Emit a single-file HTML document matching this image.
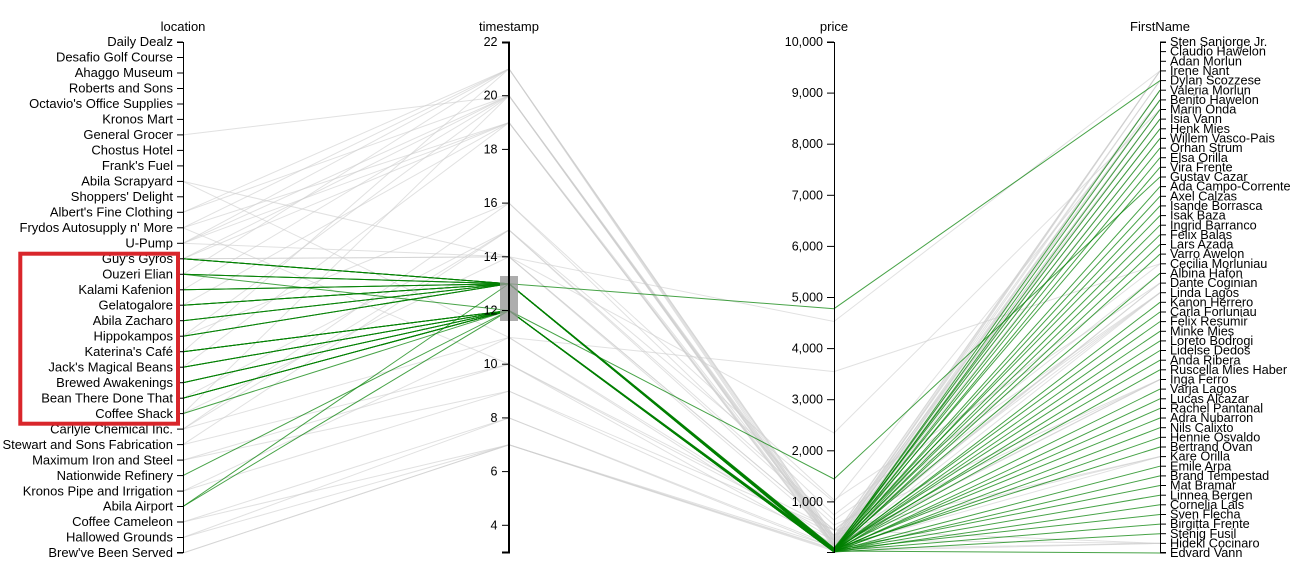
<!DOCTYPE html>
<html>
<head>
<meta charset="utf-8">
<style>
html,body{margin:0;padding:0;background:#fff;}
svg{display:block;}
text{font-family:"Liberation Sans",Arial,sans-serif;fill:#000;}
.ax path,.ax line{stroke:#000;fill:none;stroke-width:1;}
.bg polyline{fill:none;stroke:#cdcdcd;stroke-opacity:0.6;stroke-width:1;}
.fg polyline{fill:none;stroke:#008000;stroke-opacity:0.72;stroke-width:1;}
.loc text{font-size:13px;}
.num text{font-size:12.5px;}
.fn text{font-size:12.7px;}
.title{font-size:13px;text-anchor:middle;}
</style>
</head>
<body>
<svg width="1298" height="567" viewBox="0 0 1298 567" xmlns="http://www.w3.org/2000/svg">
<rect width="1298" height="567" fill="#fff"/>

<g class="bg">
<polyline points="183,134.9 509,95.7 834,540 1160,70.9"/>
<polyline points="183,212.3 509,68.9 834,545 1160,90.2"/>
<polyline points="183,212.3 509,95.7 834,538 1160,99.9"/>
<polyline points="183,227.8 509,68.9 834,542 1160,70.9"/>
<polyline points="183,227.8 509,122.6 834,546 1160,109.5"/>
<polyline points="183,243.3 509,95.7 834,544 1160,80.6"/>
<polyline points="183,243.3 509,122.6 834,540 1160,119.1"/>
<polyline points="183,243.3 509,68.9 834,536 1160,70.9"/>
<polyline points="183,258.8 509,95.7 834,543 1160,99.9"/>
<polyline points="183,258.8 509,122.6 834,547 1160,128.8"/>
<polyline points="183,289.8 509,95.7 834,541 1160,90.2"/>
<polyline points="183,336.2 509,95.7 834,545 1160,109.5"/>
<polyline points="183,351.7 509,68.9 834,539 1160,80.6"/>
<polyline points="183,305.2 509,122.6 834,548 1160,138.4"/>
<polyline points="183,274.3 509,68.9 834,537 1160,70.9"/>
<polyline points="183,413.6 509,95.7 834,546 1160,119.1"/>
<polyline points="183,367.2 509,122.6 834,544 1160,90.2"/>
<polyline points="183,181.4 509,256.8 834,321.5 1160,70.9"/>
<polyline points="183,258.8 509,256.8 834,530 1160,273.4"/>
<polyline points="183,429.1 509,203.1 834,500 1160,283.1"/>
<polyline points="183,444.6 509,230 834,520 1160,292.7"/>
<polyline points="183,336.2 509,203.1 834,515 1160,263.8"/>
<polyline points="183,398.2 509,230 834,525 1160,379.5"/>
<polyline points="183,413.6 509,256.8 834,535 1160,456.6"/>
<polyline points="183,243.3 509,256.8 834,530 1160,543.4"/>
<polyline points="183,491.1 509,337.4 834,371.6 1160,263.8"/>
<polyline points="183,429.1 509,337.4 834,540 1160,292.7"/>
<polyline points="183,444.6 509,364.2 834,535 1160,379.5"/>
<polyline points="183,460.1 509,391.1 834,530 1160,456.6"/>
<polyline points="183,460.1 509,364.2 834,545 1160,283.1"/>
<polyline points="183,491.1 509,391.1 834,540 1160,543.4"/>
<polyline points="183,522 509,417.9 834,548 1160,456.6"/>
<polyline points="183,537.5 509,417.9 834,546 1160,379.5"/>
<polyline points="183,537.5 509,444.8 834,549 1160,543.4"/>
<polyline points="183,553 509,444.8 834,550 1160,292.7"/>
<polyline points="183,553 509,444.8 834,547 1160,283.1"/>
<polyline points="183,522 509,444.8 834,551 1160,543.4"/>
<polyline points="183,258.8 509,256.8 834,433 1160,109.5"/>
<polyline points="183,429.1 509,230 834,502 1160,99.9"/>
<polyline points="183,227.8 509,364.2 834,530 1160,292.7"/>
<polyline points="183,181.4 509,337.4 834,545 1160,379.5"/>
</g>

<g class="fg">
<polyline points="183,258.8 509,283.7 834,551 1160,90.2"/>
<polyline points="183,258.8 509,283.7 834,550 1160,99.9"/>
<polyline points="183,258.8 509,283.7 834,552 1160,109.5"/>
<polyline points="183,258.8 509,283.7 834,549 1160,119.1"/>
<polyline points="183,258.8 509,283.7 834,548 1160,128.8"/>
<polyline points="183,274.3 509,283.7 834,308.7 1160,80.6"/>
<polyline points="183,274.3 509,283.7 834,551 1160,138.4"/>
<polyline points="183,274.3 509,283.7 834,550 1160,148.1"/>
<polyline points="183,289.8 509,283.7 834,552 1160,157.7"/>
<polyline points="183,289.8 509,283.7 834,549 1160,167.3"/>
<polyline points="183,289.8 509,283.7 834,551 1160,186.6"/>
<polyline points="183,305.2 509,283.7 834,550 1160,196.3"/>
<polyline points="183,305.2 509,283.7 834,552 1160,205.9"/>
<polyline points="183,305.2 509,283.7 834,548 1160,215.6"/>
<polyline points="183,305.2 509,283.7 834,551 1160,225.2"/>
<polyline points="183,320.7 509,283.7 834,550 1160,234.8"/>
<polyline points="183,320.7 509,283.7 834,552 1160,244.5"/>
<polyline points="183,320.7 509,283.7 834,551 1160,254.1"/>
<polyline points="183,336.2 509,283.7 834,549 1160,273.4"/>
<polyline points="183,336.2 509,283.7 834,552 1160,302.3"/>
<polyline points="183,336.2 509,283.7 834,550 1160,312"/>
<polyline points="183,506.5 509,283.7 834,551 1160,321.6"/>
<polyline points="183,274.3 509,310.5 834,479 1160,177"/>
<polyline points="183,351.7 509,310.5 834,551 1160,331.3"/>
<polyline points="183,351.7 509,310.5 834,550 1160,340.9"/>
<polyline points="183,351.7 509,310.5 834,552 1160,350.5"/>
<polyline points="183,351.7 509,310.5 834,549 1160,360.2"/>
<polyline points="183,367.2 509,310.5 834,551 1160,369.8"/>
<polyline points="183,367.2 509,310.5 834,550 1160,389.1"/>
<polyline points="183,367.2 509,310.5 834,552 1160,398.8"/>
<polyline points="183,367.2 509,310.5 834,551 1160,408.4"/>
<polyline points="183,382.7 509,310.5 834,550 1160,418"/>
<polyline points="183,382.7 509,310.5 834,552 1160,427.7"/>
<polyline points="183,382.7 509,310.5 834,551 1160,437.3"/>
<polyline points="183,382.7 509,310.5 834,549 1160,447"/>
<polyline points="183,398.2 509,310.5 834,551 1160,466.2"/>
<polyline points="183,398.2 509,310.5 834,552 1160,475.9"/>
<polyline points="183,398.2 509,310.5 834,550 1160,485.5"/>
<polyline points="183,398.2 509,310.5 834,551 1160,495.2"/>
<polyline points="183,413.6 509,310.5 834,552 1160,504.8"/>
<polyline points="183,398.2 509,310.5 834,550 1160,514.5"/>
<polyline points="183,475.6 509,310.5 834,551 1160,524.1"/>
<polyline points="183,506.5 509,310.5 834,552 1160,533.7"/>
<polyline points="183,351.7 509,310.5 834,551 1160,553"/>
</g>

<g class="ax loc" transform="translate(183,0)">
<path d="M-6,42.5H0.5V552.5H-6"/>
<g text-anchor="end">
<line x1="-6" x2="0" y1="42" y2="42"/><text x="-10" y="42" dy="0.32em">Daily Dealz</text>
<line x1="-6" x2="0" y1="57.5" y2="57.5"/><text x="-10" y="57.5" dy="0.32em">Desafio Golf Course</text>
<line x1="-6" x2="0" y1="73" y2="73"/><text x="-10" y="73" dy="0.32em">Ahaggo Museum</text>
<line x1="-6" x2="0" y1="88.5" y2="88.5"/><text x="-10" y="88.5" dy="0.32em">Roberts and Sons</text>
<line x1="-6" x2="0" y1="104" y2="104"/><text x="-10" y="104" dy="0.32em">Octavio's Office Supplies</text>
<line x1="-6" x2="0" y1="119.4" y2="119.4"/><text x="-10" y="119.4" dy="0.32em">Kronos Mart</text>
<line x1="-6" x2="0" y1="134.9" y2="134.9"/><text x="-10" y="134.9" dy="0.32em">General Grocer</text>
<line x1="-6" x2="0" y1="150.4" y2="150.4"/><text x="-10" y="150.4" dy="0.32em">Chostus Hotel</text>
<line x1="-6" x2="0" y1="165.9" y2="165.9"/><text x="-10" y="165.9" dy="0.32em">Frank's Fuel</text>
<line x1="-6" x2="0" y1="181.4" y2="181.4"/><text x="-10" y="181.4" dy="0.32em">Abila Scrapyard</text>
<line x1="-6" x2="0" y1="196.8" y2="196.8"/><text x="-10" y="196.8" dy="0.32em">Shoppers' Delight</text>
<line x1="-6" x2="0" y1="212.3" y2="212.3"/><text x="-10" y="212.3" dy="0.32em">Albert's Fine Clothing</text>
<line x1="-6" x2="0" y1="227.8" y2="227.8"/><text x="-10" y="227.8" dy="0.32em">Frydos Autosupply n' More</text>
<line x1="-6" x2="0" y1="243.3" y2="243.3"/><text x="-10" y="243.3" dy="0.32em">U-Pump</text>
<line x1="-6" x2="0" y1="258.8" y2="258.8"/><text x="-10" y="258.8" dy="0.32em">Guy's Gyros</text>
<line x1="-6" x2="0" y1="274.3" y2="274.3"/><text x="-10" y="274.3" dy="0.32em">Ouzeri Elian</text>
<line x1="-6" x2="0" y1="289.8" y2="289.8"/><text x="-10" y="289.8" dy="0.32em">Kalami Kafenion</text>
<line x1="-6" x2="0" y1="305.2" y2="305.2"/><text x="-10" y="305.2" dy="0.32em">Gelatogalore</text>
<line x1="-6" x2="0" y1="320.7" y2="320.7"/><text x="-10" y="320.7" dy="0.32em">Abila Zacharo</text>
<line x1="-6" x2="0" y1="336.2" y2="336.2"/><text x="-10" y="336.2" dy="0.32em">Hippokampos</text>
<line x1="-6" x2="0" y1="351.7" y2="351.7"/><text x="-10" y="351.7" dy="0.32em">Katerina's Café</text>
<line x1="-6" x2="0" y1="367.2" y2="367.2"/><text x="-10" y="367.2" dy="0.32em">Jack's Magical Beans</text>
<line x1="-6" x2="0" y1="382.7" y2="382.7"/><text x="-10" y="382.7" dy="0.32em">Brewed Awakenings</text>
<line x1="-6" x2="0" y1="398.2" y2="398.2"/><text x="-10" y="398.2" dy="0.32em">Bean There Done That</text>
<line x1="-6" x2="0" y1="413.6" y2="413.6"/><text x="-10" y="413.6" dy="0.32em">Coffee Shack</text>
<line x1="-6" x2="0" y1="429.1" y2="429.1"/><text x="-10" y="429.1" dy="0.32em">Carlyle Chemical Inc.</text>
<line x1="-6" x2="0" y1="444.6" y2="444.6"/><text x="-10" y="444.6" dy="0.32em">Stewart and Sons Fabrication</text>
<line x1="-6" x2="0" y1="460.1" y2="460.1"/><text x="-10" y="460.1" dy="0.32em">Maximum Iron and Steel</text>
<line x1="-6" x2="0" y1="475.6" y2="475.6"/><text x="-10" y="475.6" dy="0.32em">Nationwide Refinery</text>
<line x1="-6" x2="0" y1="491.1" y2="491.1"/><text x="-10" y="491.1" dy="0.32em">Kronos Pipe and Irrigation</text>
<line x1="-6" x2="0" y1="506.5" y2="506.5"/><text x="-10" y="506.5" dy="0.32em">Abila Airport</text>
<line x1="-6" x2="0" y1="522" y2="522"/><text x="-10" y="522" dy="0.32em">Coffee Cameleon</text>
<line x1="-6" x2="0" y1="537.5" y2="537.5"/><text x="-10" y="537.5" dy="0.32em">Hallowed Grounds</text>
<line x1="-6" x2="0" y1="553" y2="553"/><text x="-10" y="553" dy="0.32em">Brew've Been Served</text>
</g>
<text class="title" x="0" y="31">location</text>
</g>

<g class="ax num" transform="translate(509,0)">
<rect x="-9" y="276" width="18" height="45" fill="#999" fill-opacity="0.8"/>
<path d="M-7,42.5H0V552.5H-7" style="stroke-width:2"/>
<g text-anchor="end">
<line x1="-7" x2="0" y1="42" y2="42"/><text x="-11.5" y="42" dy="0.32em">22</text>
<line x1="-7" x2="0" y1="95.7" y2="95.7"/><text x="-11.5" y="95.7" dy="0.32em">20</text>
<line x1="-7" x2="0" y1="149.4" y2="149.4"/><text x="-11.5" y="149.4" dy="0.32em">18</text>
<line x1="-7" x2="0" y1="203.1" y2="203.1"/><text x="-11.5" y="203.1" dy="0.32em">16</text>
<line x1="-7" x2="0" y1="256.8" y2="256.8"/><text x="-11.5" y="256.8" dy="0.32em">14</text>
<line x1="-7" x2="0" y1="310.5" y2="310.5"/><text x="-11.5" y="310.5" dy="0.32em">12</text>
<line x1="-7" x2="0" y1="364.2" y2="364.2"/><text x="-11.5" y="364.2" dy="0.32em">10</text>
<line x1="-7" x2="0" y1="417.9" y2="417.9"/><text x="-11.5" y="417.9" dy="0.32em">8</text>
<line x1="-7" x2="0" y1="471.6" y2="471.6"/><text x="-11.5" y="471.6" dy="0.32em">6</text>
<line x1="-7" x2="0" y1="525.3" y2="525.3"/><text x="-11.5" y="525.3" dy="0.32em">4</text>
</g>
<text class="title" x="0" y="31" style="font-size:13px">timestamp</text>
</g>

<g class="ax num" transform="translate(834,0)">
<path d="M-7,42.5H0.5V552.5H-7"/>
<g text-anchor="end">
<line x1="-7" x2="0" y1="42" y2="42"/><text x="-11" y="42" dy="0.32em">10,000</text>
<line x1="-7" x2="0" y1="93.1" y2="93.1"/><text x="-11" y="93.1" dy="0.32em">9,000</text>
<line x1="-7" x2="0" y1="144.2" y2="144.2"/><text x="-11" y="144.2" dy="0.32em">8,000</text>
<line x1="-7" x2="0" y1="195.3" y2="195.3"/><text x="-11" y="195.3" dy="0.32em">7,000</text>
<line x1="-7" x2="0" y1="246.4" y2="246.4"/><text x="-11" y="246.4" dy="0.32em">6,000</text>
<line x1="-7" x2="0" y1="297.5" y2="297.5"/><text x="-11" y="297.5" dy="0.32em">5,000</text>
<line x1="-7" x2="0" y1="348.6" y2="348.6"/><text x="-11" y="348.6" dy="0.32em">4,000</text>
<line x1="-7" x2="0" y1="399.7" y2="399.7"/><text x="-11" y="399.7" dy="0.32em">3,000</text>
<line x1="-7" x2="0" y1="450.8" y2="450.8"/><text x="-11" y="450.8" dy="0.32em">2,000</text>
<line x1="-7" x2="0" y1="501.9" y2="501.9"/><text x="-11" y="501.9" dy="0.32em">1,000</text>
</g>
<text class="title" x="0" y="31" style="font-size:13px">price</text>
</g>

<g class="ax fn" transform="translate(1160,0)">
<path d="M6,42.5H0.5V552.5H6"/>
<g>
<line x1="0" x2="6" y1="42" y2="42"/><text x="10" y="42" dy="0.32em">Sten Sanjorge Jr.</text>
<line x1="0" x2="6" y1="51.6" y2="51.6"/><text x="10" y="51.6" dy="0.32em">Claudio Hawelon</text>
<line x1="0" x2="6" y1="61.3" y2="61.3"/><text x="10" y="61.3" dy="0.32em">Adan Morlun</text>
<line x1="0" x2="6" y1="70.9" y2="70.9"/><text x="10" y="70.9" dy="0.32em">Irene Nant</text>
<line x1="0" x2="6" y1="80.6" y2="80.6"/><text x="10" y="80.6" dy="0.32em">Dylan Scozzese</text>
<line x1="0" x2="6" y1="90.2" y2="90.2"/><text x="10" y="90.2" dy="0.32em">Valeria Morlun</text>
<line x1="0" x2="6" y1="99.9" y2="99.9"/><text x="10" y="99.9" dy="0.32em">Benito Hawelon</text>
<line x1="0" x2="6" y1="109.5" y2="109.5"/><text x="10" y="109.5" dy="0.32em">Marin Onda</text>
<line x1="0" x2="6" y1="119.1" y2="119.1"/><text x="10" y="119.1" dy="0.32em">Isia Vann</text>
<line x1="0" x2="6" y1="128.8" y2="128.8"/><text x="10" y="128.8" dy="0.32em">Henk Mies</text>
<line x1="0" x2="6" y1="138.4" y2="138.4"/><text x="10" y="138.4" dy="0.32em">Willem Vasco-Pais</text>
<line x1="0" x2="6" y1="148.1" y2="148.1"/><text x="10" y="148.1" dy="0.32em">Orhan Strum</text>
<line x1="0" x2="6" y1="157.7" y2="157.7"/><text x="10" y="157.7" dy="0.32em">Elsa Orilla</text>
<line x1="0" x2="6" y1="167.3" y2="167.3"/><text x="10" y="167.3" dy="0.32em">Vira Frente</text>
<line x1="0" x2="6" y1="177" y2="177"/><text x="10" y="177" dy="0.32em">Gustav Cazar</text>
<line x1="0" x2="6" y1="186.6" y2="186.6"/><text x="10" y="186.6" dy="0.32em">Ada Campo-Corrente</text>
<line x1="0" x2="6" y1="196.3" y2="196.3"/><text x="10" y="196.3" dy="0.32em">Axel Calzas</text>
<line x1="0" x2="6" y1="205.9" y2="205.9"/><text x="10" y="205.9" dy="0.32em">Isande Borrasca</text>
<line x1="0" x2="6" y1="215.6" y2="215.6"/><text x="10" y="215.6" dy="0.32em">Isak Baza</text>
<line x1="0" x2="6" y1="225.2" y2="225.2"/><text x="10" y="225.2" dy="0.32em">Ingrid Barranco</text>
<line x1="0" x2="6" y1="234.8" y2="234.8"/><text x="10" y="234.8" dy="0.32em">Felix Balas</text>
<line x1="0" x2="6" y1="244.5" y2="244.5"/><text x="10" y="244.5" dy="0.32em">Lars Azada</text>
<line x1="0" x2="6" y1="254.1" y2="254.1"/><text x="10" y="254.1" dy="0.32em">Varro Awelon</text>
<line x1="0" x2="6" y1="263.8" y2="263.8"/><text x="10" y="263.8" dy="0.32em">Cecilia Morluniau</text>
<line x1="0" x2="6" y1="273.4" y2="273.4"/><text x="10" y="273.4" dy="0.32em">Albina Hafon</text>
<line x1="0" x2="6" y1="283.1" y2="283.1"/><text x="10" y="283.1" dy="0.32em">Dante Coginian</text>
<line x1="0" x2="6" y1="292.7" y2="292.7"/><text x="10" y="292.7" dy="0.32em">Linda Lagos</text>
<line x1="0" x2="6" y1="302.3" y2="302.3"/><text x="10" y="302.3" dy="0.32em">Kanon Herrero</text>
<line x1="0" x2="6" y1="312" y2="312"/><text x="10" y="312" dy="0.32em">Carla Forluniau</text>
<line x1="0" x2="6" y1="321.6" y2="321.6"/><text x="10" y="321.6" dy="0.32em">Felix Resumir</text>
<line x1="0" x2="6" y1="331.3" y2="331.3"/><text x="10" y="331.3" dy="0.32em">Minke Mies</text>
<line x1="0" x2="6" y1="340.9" y2="340.9"/><text x="10" y="340.9" dy="0.32em">Loreto Bodrogi</text>
<line x1="0" x2="6" y1="350.5" y2="350.5"/><text x="10" y="350.5" dy="0.32em">Lidelse Dedos</text>
<line x1="0" x2="6" y1="360.2" y2="360.2"/><text x="10" y="360.2" dy="0.32em">Anda Ribera</text>
<line x1="0" x2="6" y1="369.8" y2="369.8"/><text x="10" y="369.8" dy="0.32em">Ruscella Mies Haber</text>
<line x1="0" x2="6" y1="379.5" y2="379.5"/><text x="10" y="379.5" dy="0.32em">Inga Ferro</text>
<line x1="0" x2="6" y1="389.1" y2="389.1"/><text x="10" y="389.1" dy="0.32em">Varja Lagos</text>
<line x1="0" x2="6" y1="398.8" y2="398.8"/><text x="10" y="398.8" dy="0.32em">Lucas Alcazar</text>
<line x1="0" x2="6" y1="408.4" y2="408.4"/><text x="10" y="408.4" dy="0.32em">Rachel Pantanal</text>
<line x1="0" x2="6" y1="418" y2="418"/><text x="10" y="418" dy="0.32em">Adra Nubarron</text>
<line x1="0" x2="6" y1="427.7" y2="427.7"/><text x="10" y="427.7" dy="0.32em">Nils Calixto</text>
<line x1="0" x2="6" y1="437.3" y2="437.3"/><text x="10" y="437.3" dy="0.32em">Hennie Osvaldo</text>
<line x1="0" x2="6" y1="447" y2="447"/><text x="10" y="447" dy="0.32em">Bertrand Ovan</text>
<line x1="0" x2="6" y1="456.6" y2="456.6"/><text x="10" y="456.6" dy="0.32em">Kare Orilla</text>
<line x1="0" x2="6" y1="466.2" y2="466.2"/><text x="10" y="466.2" dy="0.32em">Emile Arpa</text>
<line x1="0" x2="6" y1="475.9" y2="475.9"/><text x="10" y="475.9" dy="0.32em">Brand Tempestad</text>
<line x1="0" x2="6" y1="485.5" y2="485.5"/><text x="10" y="485.5" dy="0.32em">Mat Bramar</text>
<line x1="0" x2="6" y1="495.2" y2="495.2"/><text x="10" y="495.2" dy="0.32em">Linnea Bergen</text>
<line x1="0" x2="6" y1="504.8" y2="504.8"/><text x="10" y="504.8" dy="0.32em">Cornelia Lais</text>
<line x1="0" x2="6" y1="514.5" y2="514.5"/><text x="10" y="514.5" dy="0.32em">Sven Flecha</text>
<line x1="0" x2="6" y1="524.1" y2="524.1"/><text x="10" y="524.1" dy="0.32em">Birgitta Frente</text>
<line x1="0" x2="6" y1="533.7" y2="533.7"/><text x="10" y="533.7" dy="0.32em">Stenig Fusil</text>
<line x1="0" x2="6" y1="543.4" y2="543.4"/><text x="10" y="543.4" dy="0.32em">Hideki Cocinaro</text>
<line x1="0" x2="6" y1="553" y2="553"/><text x="10" y="553" dy="0.32em">Edvard Vann</text>
</g>
<text class="title" x="0" y="31" style="font-size:13px">FirstName</text>
</g>

<rect x="20.3" y="253.7" width="157.7" height="170" fill="none" stroke="#d9262b" stroke-width="4"/>
</svg>
</body>
</html>
